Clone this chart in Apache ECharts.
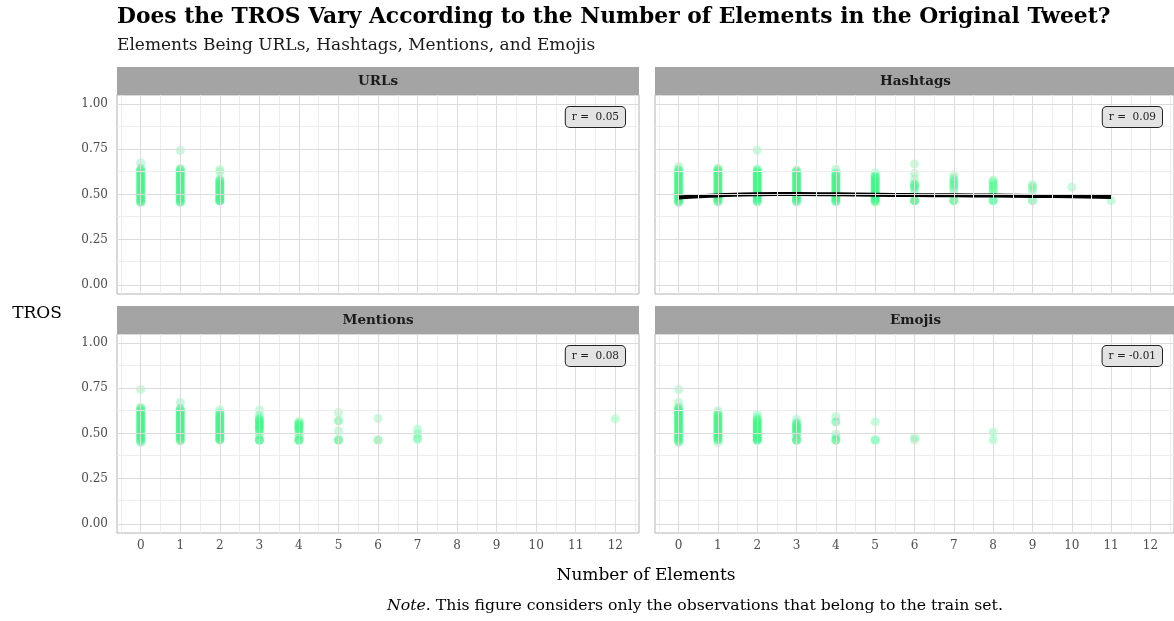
<!DOCTYPE html>
<html>
<head>
<meta charset="utf-8">
<script src="https://cdn.jsdelivr.net/npm/echarts@6/dist/echarts.min.js"></script>
<style>
  html, body { margin: 0; padding: 0; background: #fff; }
  #chart { width: 1174px; height: 621px; }
</style>
</head>
<body>
<div id="chart"></div>
<script>
// ---- data ----------------------------------------------------------------
const counts = [0, 1, 2, 3, 4, 5, 6, 7, 8, 9, 10, 11, 12];
const yTicks = [0, 0.25, 0.5, 0.75, 1];
const panelNames = ['URLs', 'Hashtags', 'Mentions', 'Emojis'];
const rLabels = ['r =  0.05', 'r =  0.09', 'r =  0.08', 'r = -0.01'];

// TROS values of each tweet, grouped by element count (index = count)
const urlsTros = [
  [0.455,0.46,0.46,0.465,0.47,0.475,0.48,0.485,0.49,0.495,0.5,0.505,0.51,0.515,0.52,0.525,0.53,0.535,0.54,0.545,0.55,0.555,0.56,0.565,0.57,0.575,0.58,0.585,0.59,0.595,0.6,0.605,0.61,0.615,0.62,0.625,0.63,0.635,0.64,0.645,0.676],
  [0.455,0.46,0.46,0.465,0.47,0.475,0.48,0.485,0.49,0.495,0.5,0.505,0.51,0.515,0.52,0.525,0.53,0.535,0.54,0.545,0.55,0.555,0.56,0.565,0.57,0.575,0.58,0.585,0.59,0.595,0.6,0.605,0.61,0.615,0.62,0.625,0.63,0.635,0.64,0.645,0.744],
  [0.465,0.465,0.465,0.465,0.47,0.475,0.48,0.485,0.49,0.495,0.5,0.505,0.51,0.515,0.52,0.525,0.53,0.535,0.54,0.545,0.55,0.555,0.56,0.565,0.57,0.575,0.58,0.585,0.625,0.637]
];
const hashtagsTros = [
  [0.455,0.46,0.46,0.465,0.47,0.475,0.48,0.485,0.49,0.495,0.5,0.505,0.51,0.515,0.52,0.525,0.53,0.535,0.54,0.545,0.55,0.555,0.56,0.565,0.57,0.575,0.58,0.585,0.59,0.595,0.6,0.605,0.61,0.615,0.62,0.625,0.63,0.635,0.64,0.655],
  [0.46,0.46,0.465,0.47,0.475,0.48,0.485,0.49,0.495,0.5,0.505,0.51,0.515,0.52,0.525,0.53,0.535,0.54,0.545,0.55,0.555,0.56,0.565,0.57,0.575,0.58,0.585,0.59,0.595,0.6,0.605,0.61,0.615,0.62,0.625,0.63,0.635,0.64,0.645],
  [0.46,0.46,0.465,0.47,0.475,0.48,0.485,0.49,0.495,0.5,0.505,0.51,0.515,0.52,0.525,0.53,0.535,0.54,0.545,0.55,0.555,0.56,0.565,0.57,0.575,0.58,0.585,0.59,0.595,0.6,0.605,0.61,0.615,0.62,0.625,0.63,0.635,0.64,0.744],
  [0.46,0.46,0.465,0.47,0.475,0.48,0.485,0.49,0.495,0.5,0.505,0.51,0.515,0.52,0.525,0.53,0.535,0.54,0.545,0.55,0.555,0.56,0.565,0.57,0.575,0.58,0.585,0.59,0.595,0.6,0.605,0.61,0.615,0.62,0.625,0.63,0.635],
  [0.46,0.46,0.465,0.47,0.475,0.48,0.485,0.49,0.495,0.5,0.505,0.51,0.515,0.52,0.525,0.53,0.535,0.54,0.545,0.55,0.555,0.56,0.565,0.57,0.575,0.58,0.585,0.59,0.595,0.6,0.605,0.61,0.615,0.62,0.64],
  [0.46,0.46,0.465,0.47,0.475,0.48,0.485,0.49,0.495,0.5,0.505,0.51,0.515,0.52,0.525,0.53,0.535,0.54,0.545,0.55,0.555,0.56,0.565,0.57,0.575,0.58,0.585,0.59,0.595,0.6,0.605,0.62],
  [0.466,0.466,0.466,0.466,0.513,0.53,0.54,0.545,0.55,0.555,0.56,0.586,0.618,0.669],
  [0.466,0.466,0.466,0.52,0.532,0.545,0.554,0.56,0.572,0.58,0.59,0.609],
  [0.466,0.466,0.466,0.51,0.524,0.53,0.542,0.55,0.561,0.57,0.579],
  [0.466,0.466,0.515,0.533,0.545,0.555],
  [0.541],
  [0.466]
];
// smoothed TROS trend for hashtags, evaluated at each count
const hashtagsSmooth = [0.484, 0.495, 0.502, 0.503, 0.501, 0.499, 0.497, 0.496, 0.494, 0.492, 0.490, 0.486];
const mentionsTros = [
  [0.45,0.455,0.46,0.465,0.47,0.475,0.48,0.485,0.49,0.495,0.5,0.505,0.51,0.515,0.52,0.525,0.53,0.535,0.54,0.545,0.55,0.555,0.56,0.565,0.57,0.575,0.58,0.585,0.59,0.595,0.6,0.605,0.61,0.615,0.62,0.625,0.63,0.635,0.64,0.645,0.743],
  [0.46,0.46,0.465,0.47,0.475,0.48,0.485,0.49,0.495,0.5,0.505,0.51,0.515,0.52,0.525,0.53,0.535,0.54,0.545,0.55,0.555,0.56,0.565,0.57,0.575,0.58,0.585,0.59,0.595,0.6,0.605,0.61,0.615,0.62,0.625,0.63,0.635,0.64,0.672],
  [0.465,0.465,0.465,0.47,0.475,0.48,0.485,0.49,0.495,0.5,0.505,0.51,0.515,0.52,0.525,0.53,0.535,0.54,0.545,0.55,0.555,0.56,0.565,0.57,0.575,0.58,0.585,0.59,0.595,0.6,0.605,0.61,0.615,0.63],
  [0.464,0.464,0.464,0.464,0.49,0.505,0.515,0.52,0.525,0.53,0.535,0.54,0.545,0.55,0.555,0.56,0.565,0.57,0.575,0.58,0.585,0.6,0.63],
  [0.464,0.464,0.464,0.464,0.49,0.5,0.515,0.52,0.525,0.53,0.535,0.54,0.545,0.55,0.555,0.56,0.566],
  [0.464,0.464,0.464,0.514,0.57,0.57,0.616],
  [0.464,0.464,0.583],
  [0.466,0.474,0.497,0.523],
  [], [], [], [],
  [0.581]
];
const emojisTros = [
  [0.45,0.455,0.46,0.465,0.47,0.475,0.48,0.485,0.49,0.495,0.5,0.505,0.51,0.515,0.52,0.525,0.53,0.535,0.54,0.545,0.55,0.555,0.56,0.565,0.57,0.575,0.58,0.585,0.59,0.595,0.6,0.605,0.61,0.615,0.62,0.625,0.63,0.635,0.64,0.645,0.672,0.743],
  [0.45,0.465,0.465,0.47,0.475,0.48,0.485,0.49,0.495,0.5,0.505,0.51,0.515,0.52,0.525,0.53,0.535,0.54,0.545,0.55,0.555,0.56,0.565,0.57,0.575,0.58,0.585,0.59,0.595,0.6,0.605,0.613,0.626],
  [0.464,0.464,0.464,0.464,0.47,0.475,0.48,0.485,0.49,0.495,0.5,0.505,0.51,0.515,0.52,0.525,0.53,0.535,0.54,0.545,0.55,0.555,0.56,0.565,0.57,0.575,0.58,0.588,0.607],
  [0.464,0.464,0.464,0.464,0.48,0.497,0.502,0.507,0.512,0.517,0.522,0.527,0.532,0.537,0.542,0.547,0.552,0.556,0.56,0.579],
  [0.464,0.464,0.464,0.48,0.497,0.564,0.564,0.594],
  [0.464,0.464,0.564],
  [0.464,0.478],
  [],
  [0.464,0.508]
];

// ---- layout --------------------------------------------------------------
const FONT = '"DejaVu Serif", "Liberation Serif", serif';
const POINT_COLOR = '#3AF886';
const STRIP_H = 28;
const panels = [
  { left: 117, top: 95,  width: 522, height: 199, tros: urlsTros,     showX: false, showY: true  },
  { left: 655, top: 95,  width: 521, height: 199, tros: hashtagsTros, showX: false, showY: false },
  { left: 117, top: 334, width: 522, height: 199, tros: mentionsTros, showX: true,  showY: true  },
  { left: 655, top: 334, width: 521, height: 199, tros: emojisTros,   showX: true,  showY: false }
];

// grid line positions (major at breaks, minor half-way)
const xMinor = [-0.5, 0.5, 1.5, 2.5, 3.5, 4.5, 5.5, 6.5, 7.5, 8.5, 9.5, 10.5, 11.5, 12.5];
const yMinor = [0.125, 0.375, 0.625, 0.875];

const grids = [], xAxes = [], yAxes = [], series = [], graphics = [];

panels.forEach((p, i) => {
  grids.push({
    left: p.left, top: p.top, width: p.width, height: p.height,
    show: true, backgroundColor: '#fff', borderColor: '#B3B3B3', borderWidth: 1,
    containLabel: false
  });
  xAxes.push({
    gridIndex: i, type: 'value', min: -0.6, max: 12.6,
    splitLine: { show: false }, axisLine: { show: false },
    axisTick: { show: p.showX, customValues: counts, length: 4, lineStyle: { color: '#B3B3B3' } },
    axisLabel: { show: p.showX, customValues: counts, margin: 7, color: '#4D4D4D',
                 fontFamily: FONT, fontSize: 12 }
  });
  yAxes.push({
    gridIndex: i, type: 'value', min: -0.05, max: 1.05,
    splitLine: { show: false }, axisLine: { show: false },
    axisTick: { show: p.showY, customValues: yTicks, length: 4, lineStyle: { color: '#B3B3B3' } },
    axisLabel: { show: p.showY, customValues: yTicks, margin: 9, color: '#4D4D4D',
                 fontFamily: FONT, fontSize: 12, formatter: v => v.toFixed(2) }
  });

  // panel grid lines
  const gl = [];
  xMinor.forEach(v => gl.push({ xAxis: v, lineStyle: { color: '#EDEDED', width: 1 } }));
  yMinor.forEach(v => gl.push({ yAxis: v, lineStyle: { color: '#EDEDED', width: 1 } }));
  counts.forEach(v => gl.push({ xAxis: v, lineStyle: { color: '#DCDCDC', width: 1 } }));
  yTicks.forEach(v => gl.push({ yAxis: v, lineStyle: { color: '#DCDCDC', width: 1 } }));
  series.push({
    type: 'line', xAxisIndex: i, yAxisIndex: i, data: [], z: 1, silent: true,
    markLine: { silent: true, symbol: ['none', 'none'], label: { show: false },
                animation: false, lineStyle: { type: 'solid' }, data: gl }
  });

  // observations
  const pts = [];
  p.tros.forEach((vals, k) => vals.forEach(v => pts.push([k, v])));
  series.push({
    type: 'scatter', xAxisIndex: i, yAxisIndex: i, data: pts, z: 3,
    symbolSize: 9, itemStyle: { color: POINT_COLOR, opacity: 0.3 },
    animation: false
  });

  // facet strip
  graphics.push({
    type: 'rect', shape: { x: p.left, y: p.top - STRIP_H, width: p.width, height: STRIP_H },
    style: { fill: '#A4A4A4' }, z: 10
  });
  graphics.push({
    type: 'text', x: p.left + p.width / 2, y: p.top - STRIP_H / 2, z: 11,
    style: { text: panelNames[i], align: 'center', verticalAlign: 'middle',
             font: 'bold 13.5px ' + FONT, fill: '#1A1A1A' }
  });

  // correlation label
  graphics.push({
    type: 'text', x: p.left + p.width - 14, y: p.top + 12, z: 12,
    style: { text: rLabels[i], align: 'right', verticalAlign: 'top',
             font: '10.5px ' + FONT, fill: '#222', backgroundColor: '#E3E3E3',
             borderColor: '#222', borderWidth: 1, borderRadius: 4,
             padding: [4, 6, 4, 6], lineHeight: 12 }
  });
});

// smoothed trend in the hashtags panel
series.push({
  type: 'line', xAxisIndex: 1, yAxisIndex: 1, z: 4, silent: true,
  data: hashtagsSmooth.map((v, k) => [counts[k], v]),
  showSymbol: false, symbol: 'none', smooth: 0.4,
  lineStyle: { color: '#000', width: 4 }, animation: false
});

// titles and axis titles
graphics.push(
  { type: 'text', x: 117, y: 6, style: { text: 'Does the TROS Vary According to the Number of Elements in the Original Tweet?',
      font: 'bold 21.8px ' + FONT, fill: '#000' } },
  { type: 'text', x: 117, y: 37, style: { text: 'Elements Being URLs, Hashtags, Mentions, and Emojis',
      font: '17px ' + FONT, fill: '#1A1A1A' } },
  { type: 'text', x: 37, y: 314, style: { text: 'TROS', align: 'center', verticalAlign: 'middle',
      font: '17px ' + FONT, fill: '#000' } },
  { type: 'text', x: 646, y: 576, style: { text: 'Number of Elements', align: 'center', verticalAlign: 'middle',
      font: '17px ' + FONT, fill: '#000' } },
  { type: 'text', x: 695, y: 606, style: {
      text: '{i|Note.} This figure considers only the observations that belong to the train set.',
      align: 'center', verticalAlign: 'middle', font: '15.7px ' + FONT, fill: '#000',
      rich: { i: { fontStyle: 'italic', fontFamily: FONT, fontSize: 15.7, fill: '#000' } } } }
);

const chart = echarts.init(document.getElementById('chart'), null, { renderer: 'canvas' });
chart.setOption({
  animation: false,
  backgroundColor: '#fff',
  grid: grids,
  xAxis: xAxes,
  yAxis: yAxes,
  series: series,
  graphic: { elements: graphics }
});
</script>
</body>
</html>
